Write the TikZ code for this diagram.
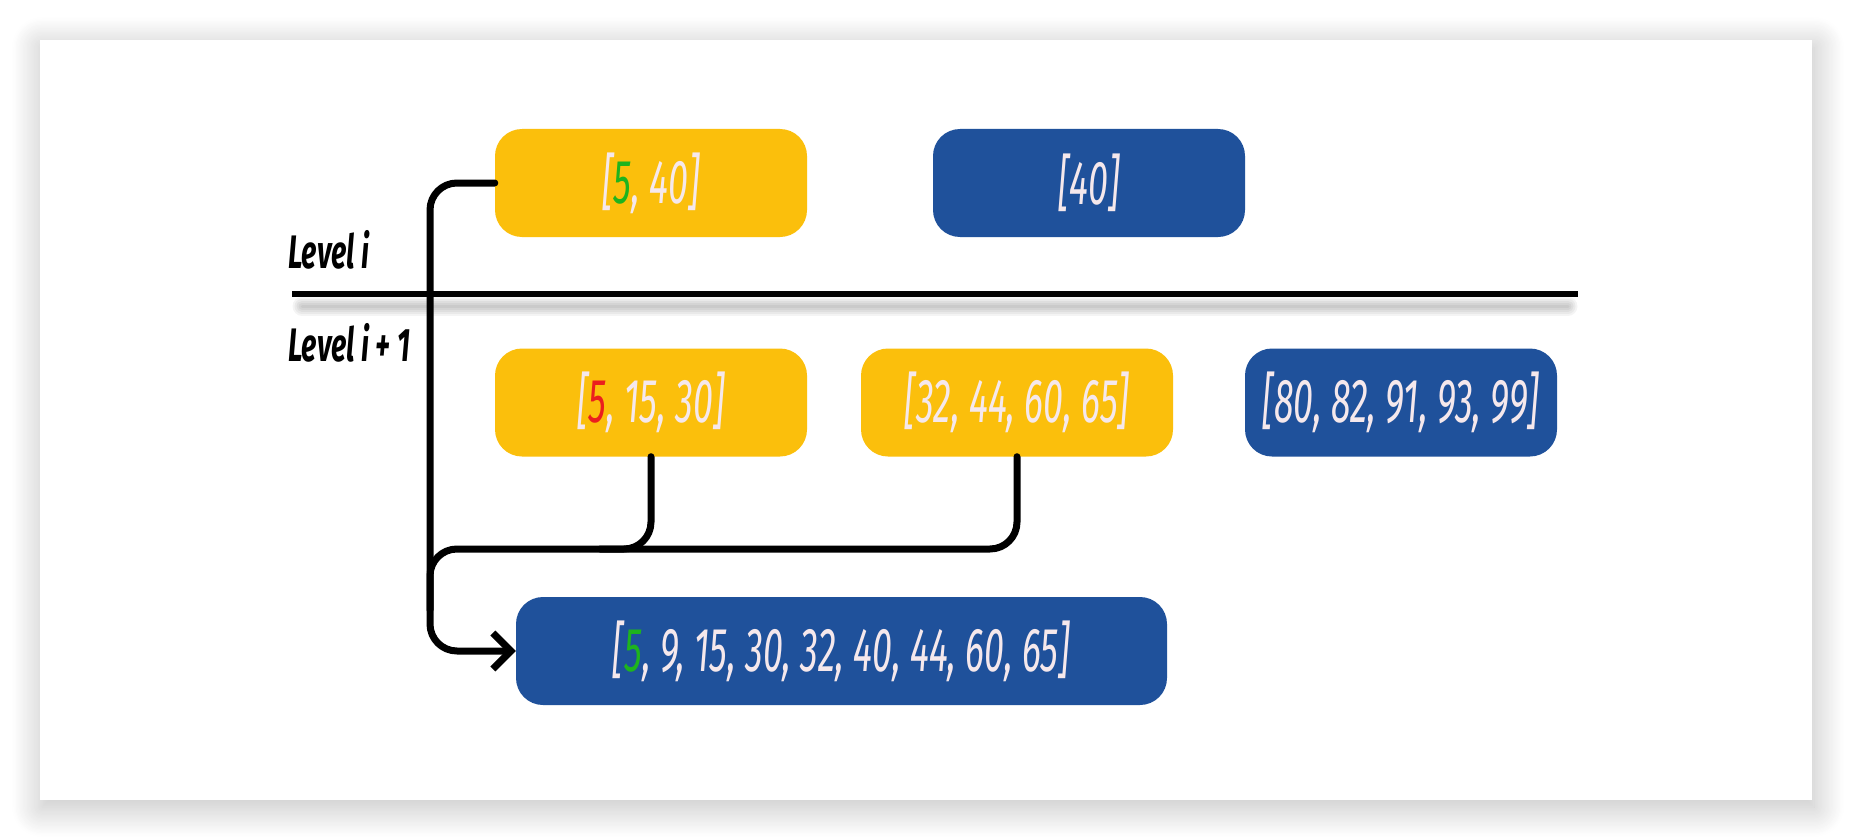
\documentclass[tikz,border=0pt]{standalone}
\usepackage{fontspec}
\usetikzlibrary{arrows.meta,shadows.blur}
\newfontfamily\boxfont[FakeStretch=0.58]{Fira Sans}
\newfontfamily\lvlfont[FakeStretch=0.61]{Fira Sans}
\definecolor{ylw}{RGB}{251,191,12}
\definecolor{blu}{RGB}{31,81,155}
\definecolor{txt}{RGB}{245,232,236}
\definecolor{grn}{RGB}{30,180,30}
\definecolor{rd}{RGB}{235,30,30}
\tikzset{
  box/.style={rounded corners=27pt, minimum width=312pt, minimum height=108pt, inner sep=0pt,
    text=txt, font=\boxfont\itshape\fontsize{62}{70}\selectfont},
  ybox/.style={box, fill=ylw},
  bbox/.style={box, fill=blu},
  conn/.style={draw=black, line width=7pt, rounded corners=27pt, line cap=round},
  lvl/.style={anchor=base west, inner sep=0pt, font=\lvlfont\bfseries\itshape\fontsize{47}{52}\selectfont},
  sepshadow/.style={draw=black, opacity=0.045, line cap=round}
}
\begin{document}
\begin{tikzpicture}[x=1pt,y=-1pt]
\path[use as bounding box] (0,0) rectangle (1852,840);
% card with shadow
\path[fill=white, blur shadow={shadow xshift=2pt, shadow yshift=-7pt, shadow blur radius=30pt, shadow opacity=26, shadow blur steps=25}] (40,40) rectangle (1812,800);
% separator line shadow
\foreach \w in {3,7,11,15,19}
  \draw[sepshadow, line width=\w pt] (302,306) -- (1568,306);
\draw[line width=6pt] (292,294) coordinate (sepL) -- (1578,294) coordinate (sepR);
% labels
\node[lvl] (li) at (288,268) {Level i};
\node[lvl] (li1) at (288,361) {Level i + 1};
% boxes
\node[ybox] (a) at (651,183) {[{\color{grn}5}, 40]};
\node[bbox] (b) at (1089,183) {[40]};
\node[ybox] (r1) at (651,402.5) {[{\color{rd}5}, 15, 30]};
\node[ybox] (r2) at (1017,402.5) {[32, 44, 60, 65]};
\node[bbox] (r3) at (1401,402.5) {[80, 82, 91, 93, 99]};
\node[bbox, minimum width=651pt] (m) at (841.5,651) {[{\color{grn}5}, 9, 15, 30, 32, 40, 44, 60, 65]};
% connector coordinates
\coordinate (c1) at (430,183);
\coordinate (c2) at (430,651);
\coordinate (h1) at (1017,549);
\coordinate (h2) at (430,549);
\coordinate (h3) at (430,610);
\coordinate (g1) at (651,549);
\coordinate (g2) at (600,549);
% connectors
\draw[conn] (r2.south) -- (h1) -- (h2) -- (h3);
\draw[conn] (r1.south) -- (g1) -- (g2);
\draw[conn, -{Straight Barb[length=18pt,width=36pt]}] (a.west) -- (c1) -- (c2) -- (m.west);
\end{tikzpicture}
\end{document}
